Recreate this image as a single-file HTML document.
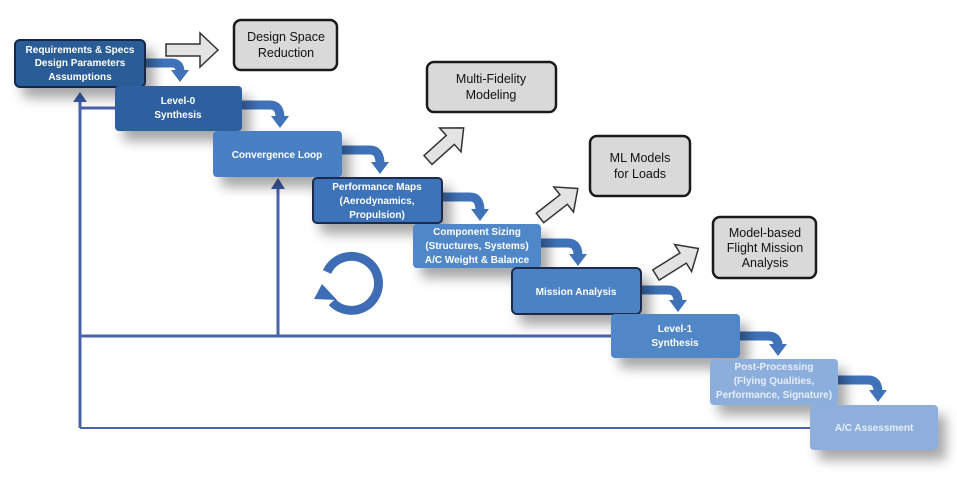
<!DOCTYPE html>
<html><head><meta charset="utf-8"><style>
body{margin:0;background:#fff;}
svg text{font-family:"Liberation Sans",sans-serif;}
</style></head><body>
<svg width="957" height="483" viewBox="0 0 957 483" xmlns="http://www.w3.org/2000/svg">
<defs>
<filter id="sh" x="-20%" y="-20%" width="160%" height="180%"><feGaussianBlur in="SourceAlpha" stdDeviation="6"/><feOffset dx="8" dy="10"/><feComponentTransfer><feFuncA type="linear" slope="0.35"/></feComponentTransfer><feMerge><feMergeNode/><feMergeNode in="SourceGraphic"/></feMerge></filter>
</defs>
<g stroke="#4a62a8" fill="none">
<path d="M80,428 H812" stroke-width="2"/>
<path d="M80,428 V100" stroke-width="3"/>
<path d="M80,336 H612" stroke-width="3"/>
<path d="M80,108 H116" stroke-width="3"/>
<path d="M278,336 V183" stroke-width="3"/>
</g>
<path d="M73,102 L80,92 L87,102 z" fill="#3a5ea8"/>
<path d="M271,189 L278,178 L285,189 z" fill="#3a5ea8"/>
<!-- circular arrow -->
<path d="M327,272 A27,27 0 1 1 332,302" stroke="#3f6db5" stroke-width="9" fill="none"/>
<path d="M322,284 L314,299 L337,300 z" fill="#3f6db5"/>
<g fill="none" stroke="#3f72b8" stroke-width="9">
<path d="M145,63 H172 Q180,63 180,72"/>
<path d="M242,105 H270 Q280,105 280,118"/>
<path d="M342,150 H370 Q380,150 380,164"/>
<path d="M442,197 H470 Q480,197 480,211"/>
<path d="M541,243 H568 Q578,243 578,256"/>
<path d="M641,290 H668 Q678,290 678,302"/>
<path d="M740,336 H768 Q778,336 778,346"/>
<path d="M838,380 H868 Q878,380 878,392"/>
</g>
<g fill="#3f72b8">
<path d="M171,70 L189,70 L180,82 z"/><path d="M271,116 L289,116 L280,128 z"/><path d="M371,162 L389,162 L380,174 z"/><path d="M471,209 L489,209 L480,221 z"/><path d="M569,254 L587,254 L578,266 z"/><path d="M669,300 L687,300 L678,312 z"/><path d="M769,344 L787,344 L778,356 z"/><path d="M869,390 L887,390 L878,402 z"/>
</g>
<g filter="url(#sh)">
<rect x="15" y="40" width="130" height="47" rx="5" fill="#2c5b96" stroke="#14284a" stroke-width="2"/>
<rect x="115" y="86" width="127" height="45" rx="4" fill="#2f60a0"/>
<rect x="213" y="131" width="129" height="46" rx="4" fill="#4a80c3"/>
<rect x="313" y="178" width="129" height="45" rx="4" fill="#3e73b8" stroke="#1b2c4c" stroke-width="2"/>
<rect x="413" y="224" width="128" height="44" rx="4" fill="#5087c8"/>
<rect x="512" y="268" width="129" height="46" rx="5" fill="#4c82c4" stroke="#1b2c4c" stroke-width="2"/>
<rect x="611" y="314" width="129" height="44" rx="4" fill="#5187c6"/>
<rect x="710" y="359" width="128" height="46" rx="4" fill="#8caedc"/>
<rect x="810" y="405" width="128" height="45" rx="4" fill="#8eafdb"/>
</g>
<g font-weight="bold" font-size="10" fill="#fff" text-anchor="middle">
<text x="80" y="53">Requirements &amp; Specs</text><text x="80" y="66">Design Parameters</text><text x="80" y="80">Assumptions</text>
<text x="178" y="104">Level-0</text><text x="178" y="118">Synthesis</text>
<text x="277" y="158">Convergence Loop</text>
<text x="377" y="190">Performance Maps</text><text x="377" y="204">(Aerodynamics,</text><text x="377" y="218">Propulsion)</text>
<text x="477" y="235">Component Sizing</text><text x="477" y="249">(Structures, Systems)</text><text x="477" y="263">A/C Weight &amp; Balance</text>
<text x="576" y="295">Mission Analysis</text>
<text x="675" y="332">Level-1</text><text x="675" y="346">Synthesis</text>
<text x="774" y="370" fill="#e6eef9">Post-Processing</text><text x="774" y="384" fill="#e6eef9">(Flying Qualities,</text><text x="774" y="398" fill="#e6eef9">Performance, Signature)</text>
<text x="874" y="431" fill="#e6eef9">A/C Assessment</text>
</g>
<g fill="#e3e3e3" stroke="#333" stroke-width="1.5">
<path d="M166,44 H200 V33 L218,50 L200,67 V56 H166 z"/>
<g transform="translate(428,160) rotate(-42)"><path d="M0,-6 H30 V-16 L48,0 L30,16 V6 H0 z"/></g>
<g transform="translate(540,218) rotate(-38)"><path d="M0,-6 H30 V-16 L48,0 L30,16 V6 H0 z"/></g>
<g transform="translate(656,275) rotate(-32)"><path d="M0,-6 H32 V-16 L50,0 L32,16 V6 H0 z"/></g>
</g>
<g fill="#d9d9d9" stroke="#1a1a1a" stroke-width="2.5">
<rect x="234" y="20" width="103" height="50" rx="7"/>
<rect x="427" y="62" width="129" height="50" rx="7"/>
<rect x="590" y="136" width="100" height="60" rx="7"/>
<rect x="713" y="217" width="103" height="61" rx="7"/>
</g>
<g font-size="12.5" fill="#111" text-anchor="middle">
<text x="286" y="41">Design Space</text><text x="286" y="57">Reduction</text>
<text x="491" y="83">Multi-Fidelity</text><text x="491" y="99">Modeling</text>
<text x="640" y="162">ML Models</text><text x="640" y="178">for Loads</text>
<text x="765" y="237">Model-based</text><text x="765" y="252">Flight Mission</text><text x="765" y="267">Analysis</text>
</g>
</svg>
</body></html>
